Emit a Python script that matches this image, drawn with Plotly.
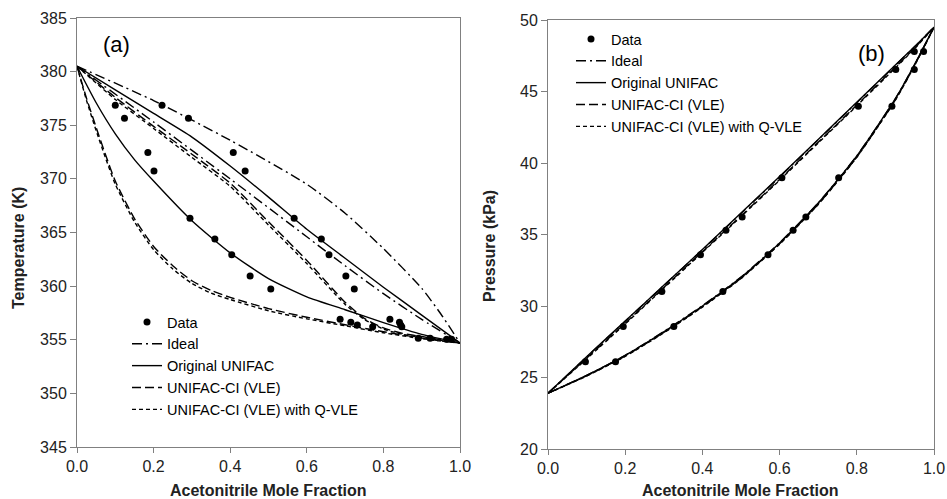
import plotly.graph_objects as go

# ---------------- Panel (a): T-x-y at constant pressure ----------------
# experimental points (liquid x, vapour y, temperature K)
a_x_liq = [0.100, 0.124, 0.185, 0.201, 0.295, 0.360, 0.404, 0.452, 0.506, 0.687, 0.715, 0.732, 0.772, 0.891, 0.965]
a_y_vap = [0.222, 0.291, 0.408, 0.439, 0.567, 0.638, 0.658, 0.702, 0.724, 0.817, 0.842, 0.845, 0.848, 0.922, 0.978]
a_T_exp = [376.86, 375.65, 372.47, 370.73, 366.32, 364.40, 362.92, 360.94, 359.73, 356.91, 356.63, 356.38, 356.22, 355.13, 355.04]

# model curves
a_ideal_dew_x = [0, 0.2, 0.4, 0.6, 0.7, 0.8, 0.9, 0.95, 1.0]
a_ideal_dew_T = [380.5, 377.3, 373.6, 369.5, 366.8, 363.5, 359.8, 357.4, 354.7]
a_ideal_bub_x = [0, 0.2, 0.4, 0.6, 0.7, 0.8, 0.9, 1.0]
a_ideal_bub_T = [380.5, 375.3, 370.0, 364.6, 361.9, 359.3, 356.9, 354.7]

a_unifac_dew_x = [0, 0.1, 0.2, 0.3, 0.4, 0.5, 0.6, 0.7, 0.8, 0.9, 1.0]
a_unifac_dew_T = [380.5, 378.3, 376.1, 373.9, 371.2, 368.3, 365.3, 362.6, 359.9, 357.3, 354.7]
a_unifac_bub_x = [0, 0.05, 0.1, 0.15, 0.2, 0.3, 0.4, 0.5, 0.6, 0.7, 0.8, 0.9, 1.0]
a_unifac_bub_T = [380.5, 377.1, 374.2, 371.8, 369.8, 366.1, 363.1, 360.7, 359.0, 357.8, 356.6, 355.5, 354.7]

a_ci_dew_x = [0, 0.1, 0.2, 0.3, 0.4, 0.5, 0.6, 0.7, 0.75, 0.8, 0.85, 0.9, 0.95, 1.0]
a_ci_dew_T = [380.5, 377.6, 374.9, 372.3, 369.6, 366.0, 362.4, 358.5, 357.0, 356.1, 355.6, 355.3, 355.0, 354.7]
a_ciq_dew_T = [380.5, 377.4, 374.7, 372.0, 369.3, 365.7, 362.1, 358.3, 356.9, 356.0, 355.5, 355.2, 354.95, 354.7]
a_ci_bub_x = [0, 0.025, 0.05, 0.075, 0.1, 0.15, 0.2, 0.25, 0.3, 0.35, 0.4, 0.5, 0.6, 0.7, 0.8, 0.9, 0.95, 1.0]
a_ci_bub_T = [380.5, 377.5, 374.8, 372.2, 369.8, 366.3, 363.7, 361.9, 360.5, 359.6, 358.95, 357.9, 357.1, 356.4, 355.75, 355.15, 354.9, 354.7]
a_ciq_bub_T = [380.5, 377.3, 374.5, 371.9, 369.5, 366.0, 363.4, 361.6, 360.25, 359.35, 358.75, 357.7, 356.95, 356.3, 355.65, 355.1, 354.88, 354.7]

# ---------------- Panel (b): P-x-y at constant temperature ----------------
b_x_liq = [0.097, 0.195, 0.295, 0.395, 0.461, 0.503, 0.606, 0.804, 0.901, 0.949]
b_y_vap = [0.175, 0.326, 0.453, 0.570, 0.635, 0.668, 0.753, 0.891, 0.949, 0.973]
b_P_exp = [26.11, 28.57, 31.02, 33.59, 35.29, 36.22, 38.96, 43.97, 46.54, 47.80]

b_grid = [0, 0.1, 0.2, 0.3, 0.4, 0.5, 0.6, 0.7, 0.8, 0.9, 0.95, 1.0]
b_ideal_bub_P = [23.9, 26.43, 28.93, 31.43, 33.93, 36.47, 39.02, 41.62, 44.22, 46.83, 48.14, 49.5]
b_ideal_dew_P = [23.9, 25.15, 26.55, 28.22, 30.02, 32.02, 34.42, 37.2, 40.5, 44.5, 46.9, 49.5]
b_unifac_bub_P = [23.9, 26.45, 28.95, 31.45, 33.95, 36.5, 39.05, 41.65, 44.25, 46.85, 48.15, 49.5]
b_unifac_dew_P = [23.9, 25.15, 26.55, 28.2, 30.0, 32.0, 34.4, 37.2, 40.5, 44.5, 46.9, 49.5]
b_ci_bub_P = [23.9, 26.35, 28.8, 31.3, 33.8, 36.3, 38.85, 41.45, 44.05, 46.7, 48.05, 49.5]
b_ci_dew_P = [23.9, 25.12, 26.5, 28.15, 29.95, 31.95, 34.35, 37.12, 40.42, 44.42, 46.85, 49.5]
b_ciq_bub_P = [23.9, 26.3, 28.75, 31.25, 33.75, 36.25, 38.8, 41.4, 44.0, 46.65, 48.0, 49.5]
b_ciq_dew_P = [23.9, 25.1, 26.48, 28.12, 29.92, 31.92, 34.32, 37.1, 40.4, 44.4, 46.82, 49.5]

x_ticks = [0.0, 0.2, 0.4, 0.6, 0.8, 1.0]

FONT = "Liberation Sans, Arial, sans-serif"
LW = 1.4
STYLES = {
    "Ideal": "10px,4px,2px,4px",
    "Original UNIFAC": "solid",
    "UNIFAC-CI (VLE)": "9px,4px",
    "UNIFAC-CI (VLE) with Q-VLE": "4px,3px",
}

fig = go.Figure()


def add_panel(xa, ya, legend, data_x, data_y, curves):
    fig.add_trace(go.Scatter(
        x=data_x, y=data_y, mode="markers", name="Data",
        marker=dict(color="black", size=7), xaxis=xa, yaxis=ya,
        legend=legend, legendgroup=legend + "data"))
    for name, pieces in curves:
        for i, (cx, cy) in enumerate(pieces):
            fig.add_trace(go.Scatter(
                x=cx, y=cy, mode="lines", name=name,
                line=dict(color="black", width=LW, dash=STYLES[name],
                          shape="spline", smoothing=0.6),
                xaxis=xa, yaxis=ya, legend=legend,
                legendgroup=legend + name, showlegend=(i == 0)))


add_panel("x", "y", "legend",
          a_x_liq + a_y_vap, a_T_exp + a_T_exp,
          [("Ideal", [(a_ideal_dew_x, a_ideal_dew_T), (a_ideal_bub_x, a_ideal_bub_T)]),
           ("Original UNIFAC", [(a_unifac_dew_x, a_unifac_dew_T), (a_unifac_bub_x, a_unifac_bub_T)]),
           ("UNIFAC-CI (VLE)", [(a_ci_dew_x, a_ci_dew_T), (a_ci_bub_x, a_ci_bub_T)]),
           ("UNIFAC-CI (VLE) with Q-VLE", [(a_ci_dew_x, a_ciq_dew_T), (a_ci_bub_x, a_ciq_bub_T)])])

add_panel("x2", "y2", "legend2",
          b_x_liq + b_y_vap, b_P_exp + b_P_exp,
          [("Ideal", [(b_grid, b_ideal_bub_P), (b_grid, b_ideal_dew_P)]),
           ("Original UNIFAC", [(b_grid, b_unifac_bub_P), (b_grid, b_unifac_dew_P)]),
           ("UNIFAC-CI (VLE)", [(b_grid, b_ci_bub_P), (b_grid, b_ci_dew_P)]),
           ("UNIFAC-CI (VLE) with Q-VLE", [(b_grid, b_ciq_bub_P), (b_grid, b_ciq_dew_P)])])

W, H = 947, 499
axis_common = dict(showline=True, linecolor="#808080", linewidth=1, mirror=True,
                   showgrid=False, zeroline=False, ticks="outside", tickcolor="#808080",
                   tickfont=dict(family=FONT, size=16, color="#222"), automargin=False)
xa_common = dict(axis_common, range=[0, 1], tickvals=x_ticks, tickformat=".1f", ticklen=5)

dom_ax = [77 / W, 460 / W]
dom_bx = [548 / W, 934 / W]
dom_ay = [1 - 447 / H, 1 - 18 / H]
dom_by = [1 - 449 / H, 1 - 20 / H]

legend_common = dict(font=dict(family=FONT, size=14.5, color="black"), bgcolor="rgba(0,0,0,0)",
                     xanchor="left", yanchor="top", tracegroupgap=0, itemwidth=30,
                     traceorder="grouped")

fig.update_layout(
    width=W, height=H, margin=dict(l=0, r=0, t=0, b=0),
    paper_bgcolor="white", plot_bgcolor="white",
    font=dict(family=FONT, color="black"),
    xaxis=dict(xa_common, domain=dom_ax, anchor="y"),
    yaxis=dict(axis_common, domain=dom_ay, anchor="x", range=[345, 385], dtick=5, ticklen=6),
    xaxis2=dict(xa_common, domain=dom_bx, anchor="y2"),
    yaxis2=dict(axis_common, domain=dom_by, anchor="x2", range=[20, 50], dtick=5, ticklen=6),
    # inner halves of the crossing x tick marks
    xaxis3=dict(overlaying="x", anchor="y", range=[0, 1], tickvals=x_ticks, ticks="inside",
                ticklen=4, tickcolor="#808080", showticklabels=False, showline=False,
                showgrid=False, zeroline=False),
    xaxis4=dict(overlaying="x2", anchor="y2", range=[0, 1], tickvals=x_ticks, ticks="inside",
                ticklen=4, tickcolor="#808080", showticklabels=False, showline=False,
                showgrid=False, zeroline=False),
    legend=dict(legend_common, x=127 / W, y=1 - 306 / H),
    legend2=dict(legend_common, x=571 / W, y=1 - 23 / H),
    showlegend=True,
)

title_font = dict(family=FONT, size=16, color="#222")
annotations = [
    dict(text="(a)", x=101 / W, y=1 - 45 / H, xanchor="left", yanchor="middle", showarrow=False,
         xref="paper", yref="paper", font=dict(family=FONT, size=22, color="black")),
    dict(text="(b)", x=856 / W, y=1 - 53 / H, xanchor="left", yanchor="middle", showarrow=False,
         xref="paper", yref="paper", font=dict(family=FONT, size=22, color="black")),
    dict(text="<b>Acetonitrile Mole Fraction</b>", x=268 / W, y=0, xanchor="center",
         yanchor="bottom", yshift=-2, showarrow=False, xref="paper", yref="paper", font=title_font),
    dict(text="<b>Acetonitrile Mole Fraction</b>", x=740 / W, y=0, xanchor="center",
         yanchor="bottom", yshift=-2, showarrow=False, xref="paper", yref="paper", font=title_font),
    dict(text="<b>Temperature (K)</b>", x=18 / W, y=1 - 248 / H, xanchor="center", yanchor="middle",
         textangle=-90, showarrow=False, xref="paper", yref="paper", font=title_font),
    dict(text="<b>Pressure (kPa)</b>", x=489 / W, y=1 - 246 / H, xanchor="center", yanchor="middle",
         textangle=-90, showarrow=False, xref="paper", yref="paper", font=title_font),
]
fig.update_layout(annotations=annotations)

fig.write_html("out.html")
